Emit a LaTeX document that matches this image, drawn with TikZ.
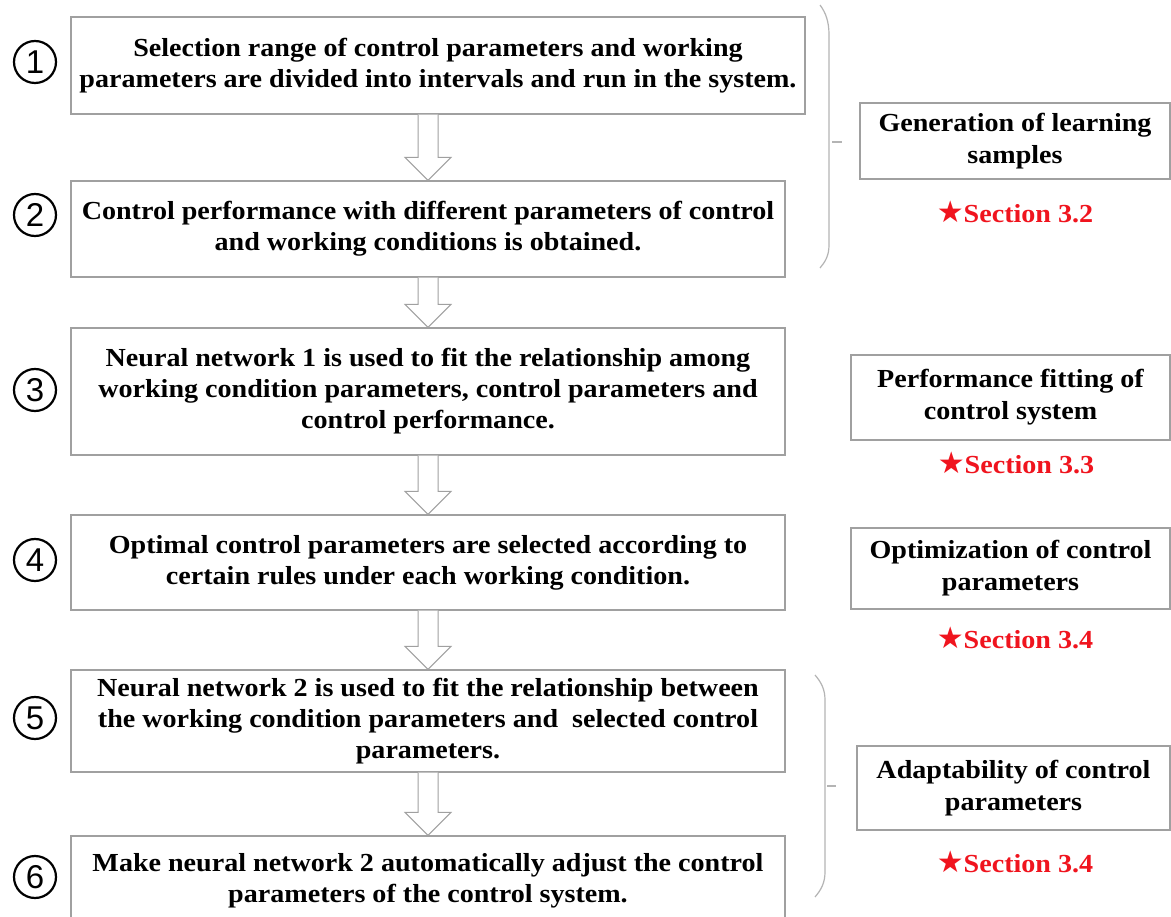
\documentclass[tikz,border=0pt]{standalone}
\usepackage{fontspec}
\setmainfont{Liberation Serif}[FakeStretch=1.08]
\newfontfamily\numfont{Liberation Sans}
\newfontfamily\symfont{DejaVu Sans}
\usetikzlibrary{calc}
\definecolor{boxgray}{HTML}{A0A0A0}
\definecolor{bracegray}{HTML}{B4B4B4}
\definecolor{secred}{HTML}{F0141E}
\tikzset{
  stepbox/.style={draw=boxgray, line width=1.1pt, fill=white, inner sep=0pt,
    align=center, font=\fontsize{26}{31}\selectfont\bfseries},
  sidebox/.style={draw=boxgray, line width=1.1pt, fill=white, inner sep=0pt,
    align=center, font=\fontsize{26}{32}\selectfont\bfseries},
  numcirc/.style={circle, draw=black, line width=2.2pt, minimum size=42pt, inner sep=0pt,
    font=\numfont\fontsize{33}{33}\selectfont},
  seclabel/.style={text=secred, inner sep=0pt, font=\fontsize{26}{28}\selectfont\bfseries},
  barr/.style={draw=boxgray, line width=1pt, fill=white, line join=miter},
  bracket/.style={draw=bracegray, line width=1.2pt},
}
\newcommand\blockarrow[2]{%
  \path (#1.south -| #2.north) coordinate (sA) (#2.north) coordinate (tA);
  \draw[barr] let \p1=(sA), \p2=(tA) in
    (\x1-10pt,\y1) -- (\x1-10pt,\y2+23pt) -- (\x1-23pt,\y2+23pt) -- (\x1,\y2)
    -- (\x1+23pt,\y2+23pt) -- (\x1+10pt,\y2+23pt) -- (\x1+10pt,\y1);
}
\begin{document}
\begin{tikzpicture}[x=1pt,y=-1pt]
\useasboundingbox (0,0) rectangle (1171,917);
\clip (0,0) rectangle (1171,917);
\fill[white] (0,0) rectangle (1171,917);

% step boxes
\node[stepbox, minimum width=734pt, minimum height=97pt] (b1) at (438,65.5)
  {Selection range of control parameters and working\\parameters are divided into intervals and run in the system.};
\node[stepbox, minimum width=714pt, minimum height=96pt] (b2) at (428,229)
  {Control performance with different parameters of control\\and working conditions is obtained.};
\node[stepbox, minimum width=714pt, minimum height=127pt] (b3) at (428,391.5)
  {Neural network 1 is used to fit the relationship among\\working condition parameters, control parameters and\\control performance.};
\node[stepbox, minimum width=714pt, minimum height=95pt] (b4) at (428,562.5)
  {Optimal control parameters are selected according to\\certain rules under each working condition.};
\node[stepbox, minimum width=714pt, minimum height=102pt] (b5) at (428,721)
  {Neural network 2 is used to fit the relationship between\\the working condition parameters and\ \ selected control\\parameters.};
\node[stepbox, minimum width=714pt, minimum height=90pt] (b6) at (428,881)
  {Make neural network 2 automatically adjust the control\\parameters of the control system.};

% arrows
\blockarrow{b1}{b2}
\blockarrow{b2}{b3}
\blockarrow{b3}{b4}
\blockarrow{b4}{b5}
\blockarrow{b5}{b6}

% circled numbers
\node[numcirc] (n1) at (35,62) {1};
\node[numcirc] (n2) at (35,215) {2};
\node[numcirc] (n3) at (35,390) {3};
\node[numcirc] (n4) at (35,560) {4};
\node[numcirc] (n5) at (35,718) {5};
\node[numcirc] (n6) at (35,877) {6};

% side boxes
\node[sidebox, minimum width=310pt, minimum height=76pt] (sA) at (1015,141)
  {Generation of learning\\samples};
\node[sidebox, minimum width=319pt, minimum height=85pt] (sB) at (1010.5,397.5)
  {Performance fitting of\\control system};
\node[sidebox, minimum width=319pt, minimum height=81pt] (sC) at (1010.5,568.5)
  {Optimization of control\\parameters};
\node[sidebox, minimum width=313pt, minimum height=84pt] (sD) at (1013.5,788)
  {Adaptability of control\\parameters};

% section labels
\node[seclabel] (l1) at (1015,212) {{\symfont\fontsize{30}{30}\selectfont ★}Section 3.2};
\node[seclabel] (l2) at (1016,463) {{\symfont\fontsize{30}{30}\selectfont ★}Section 3.3};
\node[seclabel] (l3) at (1015,638) {{\symfont\fontsize{30}{30}\selectfont ★}Section 3.4};
\node[seclabel] (l4) at (1015,862) {{\symfont\fontsize{30}{30}\selectfont ★}Section 3.4};

% brackets
\draw[bracket] (820,5) .. controls (826,13) and (829,22) .. (829,35)
  -- (829,245) .. controls (829,256) and (825,262) .. (820,268);
\draw[bracket] (832,142) -- (842,142);
\draw[bracket] (815,675) .. controls (821,682) and (825,689) .. (825,700)
  -- (825,872) .. controls (825,883) and (821,890) .. (815,897);
\draw[bracket] (827,786) -- (836,786);
\end{tikzpicture}
\end{document}
